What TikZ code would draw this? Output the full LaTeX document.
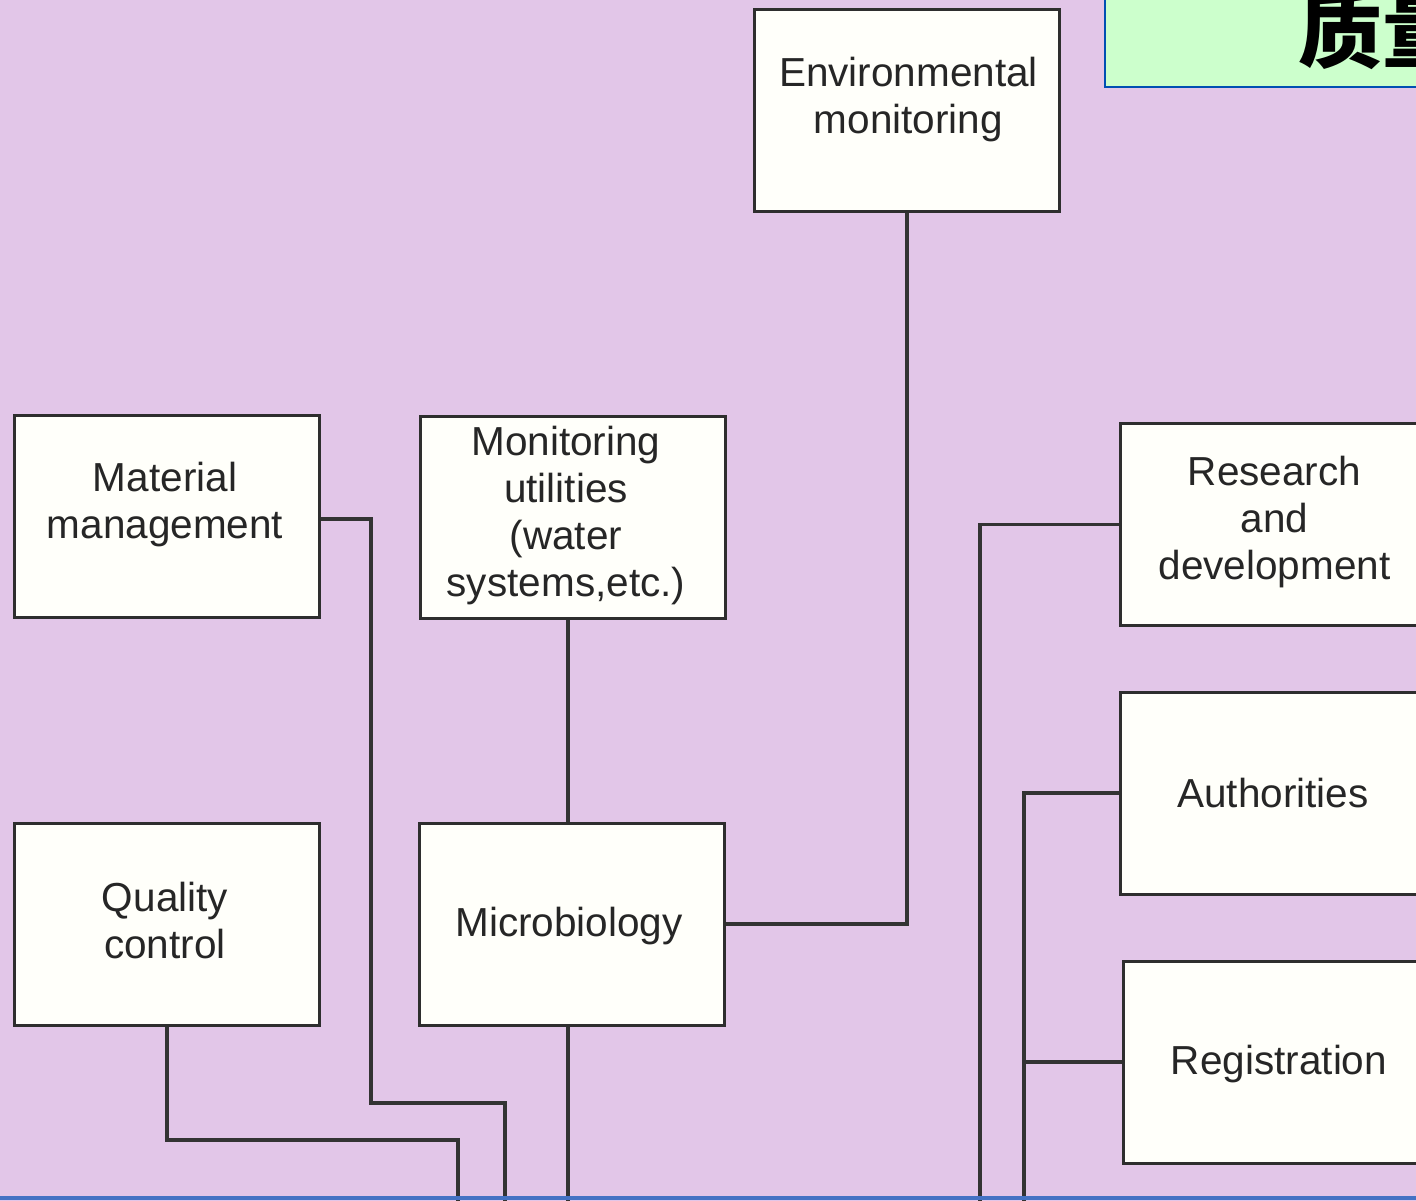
\documentclass[tikz,border=0pt]{standalone}
\usepackage{fontspec}
\setmainfont{Liberation Sans}
\newfontfamily\cjk{Noto Sans CJK SC}
\begin{document}
\begin{tikzpicture}[x=1pt,y=-1pt,
  box/.style={draw=black!82,line width=3pt,fill=white!98!yellow,
    minimum width=305pt,minimum height=202pt,inner sep=0pt},
  txt/.style={align=center,inner sep=0pt,text=black!85,
    font=\fontsize{40.5}{47}\selectfont},
  wire/.style={draw=black!80,line width=3.2pt},
  banner/.style={draw=blue!55!cyan!70!black,line width=2pt,fill=green!20,inner sep=0pt}]
% page and background
\useasboundingbox (0,0) rectangle (1416,1201);
\fill[fill={rgb,255:red,226;green,198;blue,232}] (0,0) rectangle (1416,1201);

% title banner, top right
\node[banner,minimum width=340pt,minimum height=110pt,anchor=south west] (banner) at (1104,88) {};
\node[anchor=base west,inner sep=0pt,font=\cjk\bfseries\fontsize{84}{84}\selectfont] (title) at (1298,62) {质量};

% boxes
\node[box] (env)   at (907,111)    {};
\node[box] (mat)   at (167,516)    {};
\node[box] (util)  at (572.5,517.5){};
\node[box] (rd)    at (1272.5,524.5){};
\node[box] (auth)  at (1272.5,793) {};
\node[box] (reg)   at (1275.5,1062){};
\node[box] (qc)    at (167,924)    {};
\node[box] (micro) at (572,924)    {};

% box texts
\node[txt] (envt)   at (908.5,100)  {Environmental\\monitoring};
\node[txt] (matt)   at (165,504.5)  {Material\\management};
\node[txt] (utilt)  at (566,515.5)  {Monitoring\\utilities\\(water\\systems,etc.)};
\node[txt] (rdt)    at (1274.5,522) {Research\\and\\development};
\node[txt] (autht)  at (1273,793)   {Authorities};
\node[txt] (regt)   at (1279,1064)  {Registration};
\node[txt] (qct)    at (165,921)    {Quality\\control};
\node[txt] (microt) at (569,926)    {Microbiology};

% free ends at the lower edge
\coordinate (mb) at (568,1201);
\coordinate (mk1) at (371,1103);
\coordinate (mb2) at (505,1201);
\coordinate (qk1) at (458,1140);
\coordinate (qb) at (458,1201);
\coordinate (rdb) at (980,1201);
\coordinate (ab) at (1024,1201);
\coordinate (mlk) at (1024,1062);

% connectors
\draw[wire] (env.south) |- (micro.east);
\draw[wire] (util.south -| 568,0) -- (micro.north -| 568,0);
\draw[wire] (micro.south -| mb) -- (mb);
\draw[wire] (mat.east |- 0,519) -| (mk1) -| (mb2);
\draw[wire] (qc.south) |- (qk1) -- (qb);
\draw[wire] (rd.west) -| (rdb);
\draw[wire] (auth.west) -| (ab);
\draw[wire] (reg.west) -- (mlk);

% lower border line
\draw[draw={rgb,255:red,68;green,114;blue,196},line width=3.5pt] (0,1198) -- (1416,1198);
\end{tikzpicture}
\end{document}
